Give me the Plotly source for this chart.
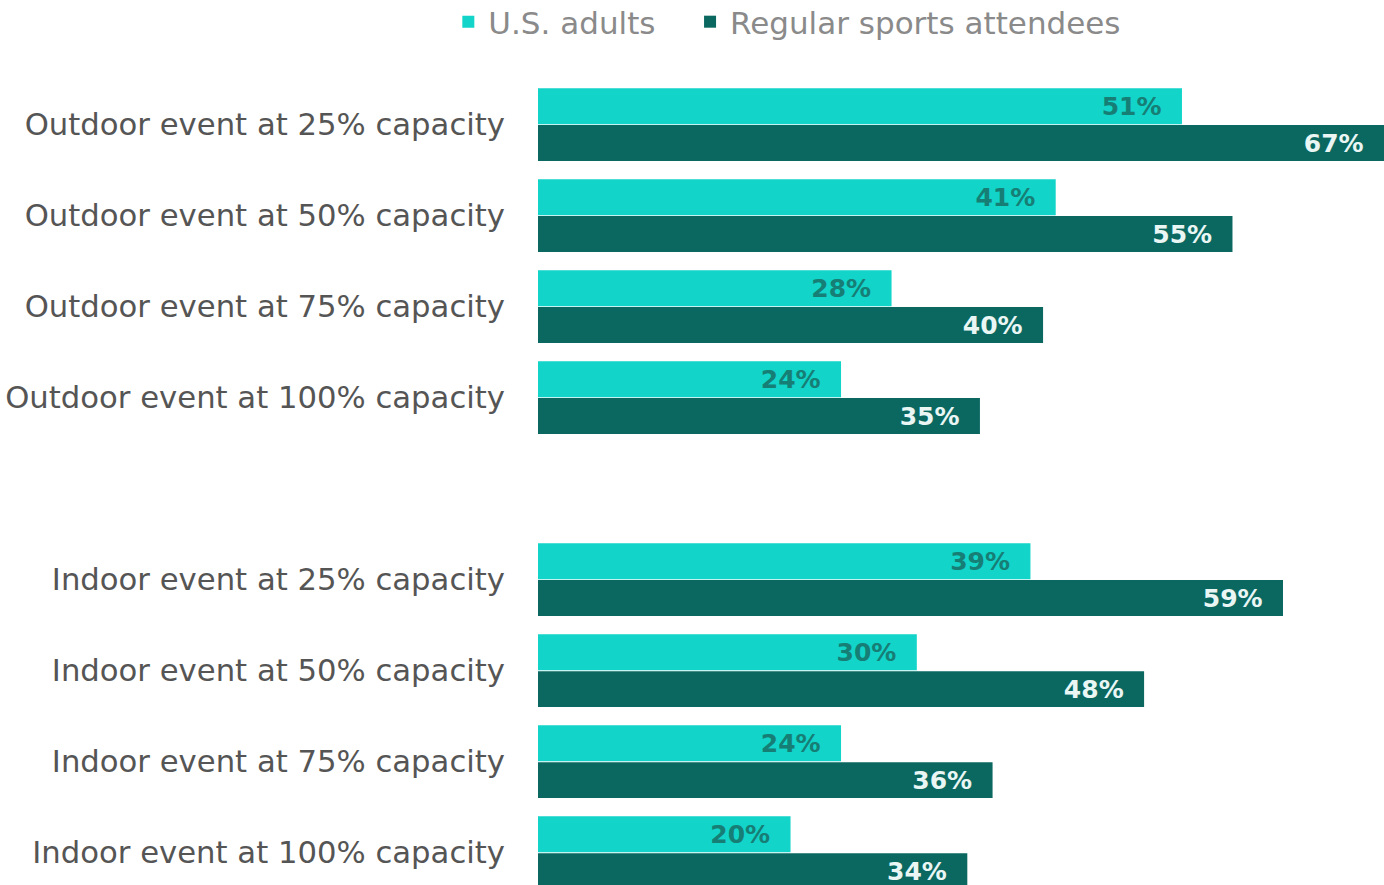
import plotly.graph_objects as go

categories = [
    "Outdoor event at 25% capacity",
    "Outdoor event at 50% capacity",
    "Outdoor event at 75% capacity",
    "Outdoor event at 100% capacity",
    " ",
    "Indoor event at 25% capacity",
    "Indoor event at 50% capacity",
    "Indoor event at 75% capacity",
    "Indoor event at 100% capacity",
]
us_adults = [51, 41, 28, 24, None, 39, 30, 24, 20]
attendees = [67, 55, 40, 35, None, 59, 48, 36, 34]
series_names = ["U.S. adults", "Regular sports attendees"]

LIGHT = "#12D4C9"
DARK = "#0A6861"
FONT = "DejaVu Sans"
GAP = "\u00a0" * 3

fig = go.Figure()
fig.add_trace(go.Bar(
    y=categories, x=us_adults, orientation="h", name=series_names[0] + GAP,
    marker=dict(color=LIGHT, line=dict(width=0)),
    texttemplate="%{x}%\u00a0\u00a0", textposition="inside", insidetextanchor="end",
    textfont=dict(family=FONT, size=25, color="#177E75", weight="bold"),
    constraintext="none", hoverinfo="skip",
))
fig.add_trace(go.Bar(
    y=categories, x=attendees, orientation="h", name=series_names[1],
    marker=dict(color=DARK, line=dict(width=0)),
    texttemplate="%{x}%\u00a0\u00a0", textposition="inside", insidetextanchor="end",
    textfont=dict(family=FONT, size=25, color="#E9F6F4", weight="bold"),
    constraintext="none", hoverinfo="skip",
))

fig.update_layout(
    width=1384, height=885,
    barmode="group", bargap=0.19, bargroupgap=0.025,
    margin=dict(l=538, r=0, t=80, b=0, autoexpand=False),
    paper_bgcolor="white", plot_bgcolor="white",
    font=dict(family=FONT, size=30.7, color="#555555"),
    showlegend=True,
    legend=dict(orientation="h", x=-0.106, xanchor="left", y=1.072, yanchor="middle",
                font=dict(size=31, color="#8a8a8a"), itemsizing="constant",
                traceorder="normal", bgcolor="rgba(0,0,0,0)"),
    xaxis=dict(range=[0, 67], visible=False, fixedrange=True),
    yaxis=dict(range=[8.355, -0.49], showgrid=False, zeroline=False, showline=False,
               ticks="", ticklabelstandoff=32, tickfont=dict(size=30.7, color="#555555")),
)

fig.write_html("out.html", config={"displayModeBar": False},
               post_script="document.body.style.margin='0';document.body.style.overflow='hidden';")
